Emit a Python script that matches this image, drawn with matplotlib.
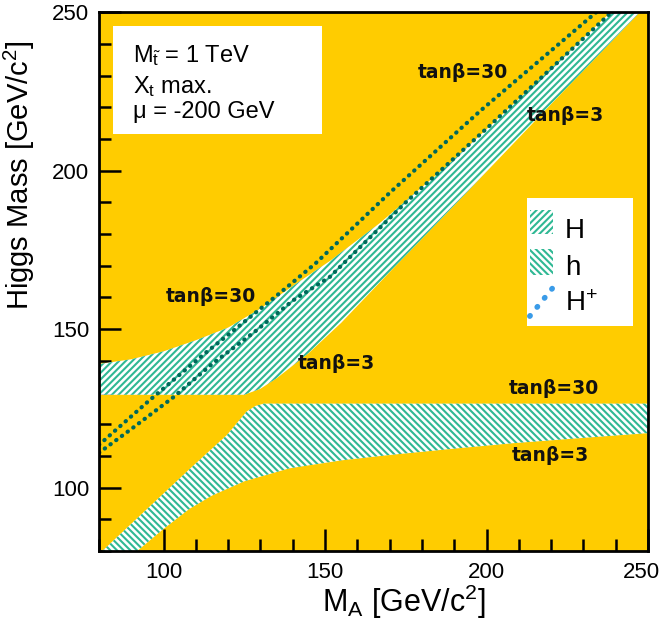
import numpy as np
import matplotlib
matplotlib.use("Agg")
import matplotlib.pyplot as plt
from matplotlib.patches import Rectangle
from matplotlib.ticker import MultipleLocator
from matplotlib.transforms import ScaledTranslation

plt.rcParams['font.family'] = ['Liberation Sans', 'DejaVu Sans']
plt.rcParams['mathtext.fontset'] = 'custom'
plt.rcParams['mathtext.rm'] = 'Liberation Sans'
plt.rcParams['mathtext.it'] = 'Liberation Sans:italic'
plt.rcParams['mathtext.bf'] = 'Liberation Sans:bold'
plt.rcParams['hatch.linewidth'] = 1.5

# colours
bg_col = '#ffcc00'
hatch_col = '#2fb894'
dot_col = '#00695a'
leg_dot_col = '#3a9be8'

# heavy H band : upper edge (tanb=3) and lower edge (tanb=30)
H_up_x = [80, 90, 100, 110, 120, 130, 142, 151.5, 167, 187.6, 201, 238.5]
H_up_y = [139, 140.5, 143, 146.5, 150.5, 156.5, 165, 171.5, 183.5, 201.4, 214, 250]
H_lo_x = [80, 125, 130, 135, 145, 155, 170, 192.8, 220, 247.5]
H_lo_y = [129.3, 129.3, 131.2, 134.5, 142.5, 152, 168, 192, 221, 250]

# light h band : upper edge (tanb=30) and lower edge (tanb=3)
h_up_x = [81, 108.3, 119.6, 125.7, 128.5, 131, 250]
h_up_y = [80, 106.1, 116.6, 124, 125.8, 126.5, 126.5]
h_lo_x = [91.8, 100, 108, 115, 125, 139, 155, 170, 190, 208, 230, 250]
h_lo_y = [80, 87, 93.3, 97.5, 102, 106.1, 108.6, 110.3, 112.3, 114, 115.7, 117.2]

# charged higgs, two tanb values
Hp30_x = [80, 95, 112, 124, 136, 147, 170, 198, 234]
Hp30_y = [113.5, 127, 141.7, 151.5, 161.4, 170.7, 193, 218.8, 250]
Hp3_x = [80, 90, 103, 115, 128, 140, 151.5, 175, 201, 238.7]
Hp3_y = [111, 118.5, 128.5, 139, 149, 159, 166.5, 190, 214.2, 250]

# tanb labels (x, y, text)
lab_x = [192.7, 224.3, 114.7, 153.4, 220.9, 219.8]
lab_y = [230.9, 217.3, 160.4, 139.2, 131.3, 110.2]
lab_txt = ['tanβ=30', 'tanβ=3', 'tanβ=30', 'tanβ=3', 'tanβ=30', 'tanβ=3']

hatch_H = '/' * 5
hatch_h = '\\' * 5

fig = plt.figure(figsize=(6.61, 6.40), dpi=100)
ax = fig.add_axes([0.1498, 0.139, 0.8305, 0.842])
ax.set_facecolor(bg_col)

# bands
ax.fill(np.concatenate([h_up_x, h_lo_x[::-1]]), np.concatenate([h_up_y, h_lo_y[::-1]]),
        facecolor='white', edgecolor=hatch_col, hatch=hatch_h, linewidth=0, zorder=2)
ax.fill(np.concatenate([H_up_x, H_lo_x[::-1]]), np.concatenate([H_up_y, H_lo_y[::-1]]),
        facecolor='white', edgecolor=hatch_col, hatch=hatch_H, linewidth=0, zorder=2)

# H+ dotted lines
for xs, ys in [(Hp30_x, Hp30_y), (Hp3_x, Hp3_y)]:
    ax.plot(xs, ys, color=dot_col, lw=3, linestyle=(0, (0.1, 1.6)),
            dash_capstyle='round', zorder=3)

for x, y, t in zip(lab_x, lab_y, lab_txt):
    ax.text(x, y, t, ha='center', va='center', fontsize=13.5, fontweight='bold',
            family='DejaVu Sans', color='#111111', zorder=4)

# info box
ax.add_patch(Rectangle((84.3, 211.6), 64.7, 34.1, facecolor='white', edgecolor='none', zorder=4))
ax.text(90.5, 234.3, r'M$_{\tilde{\mathrm{t}}}$ = 1 TeV', fontsize=17, va='baseline', zorder=5)
ax.text(90.5, 224.5, r'X$_{\mathrm{t}}$ max.', fontsize=17, va='baseline', zorder=5)
ax.text(90.5, 216.7, 'μ = -200 GeV', fontsize=17, va='baseline', zorder=5)

# legend
ax.add_patch(Rectangle((212.5, 151), 32.8, 40.4, facecolor='white', edgecolor='none', zorder=4))
ax.add_patch(Rectangle((213.4, 179.9), 7.1, 7.6, facecolor='white', edgecolor=hatch_col,
                       hatch=hatch_H, linewidth=0, zorder=5))
ax.add_patch(Rectangle((213.4, 167.0), 7.1, 8.2, facecolor='white', edgecolor=hatch_col,
                       hatch=hatch_h, linewidth=0, zorder=5))
ax.plot([213.4, 220.5], [154.1, 163.0], color=leg_dot_col, lw=4, linestyle=(0, (0.1, 2.0)),
        dash_capstyle='round', zorder=5)
ax.text(224.3, 178.8, 'H', fontsize=20, va='baseline', zorder=5)
ax.text(224.3, 167.1, 'h', fontsize=20, va='baseline', zorder=5)
ax.text(224.3, 155.7, r'H$^{+}$', fontsize=20, va='baseline', zorder=5)

ax.set_xlim(80, 250)
ax.set_ylim(80, 250)
ax.xaxis.set_major_locator(MultipleLocator(50))
ax.xaxis.set_minor_locator(MultipleLocator(10))
ax.yaxis.set_major_locator(MultipleLocator(50))
ax.yaxis.set_minor_locator(MultipleLocator(10))
ax.tick_params(which='both', direction='in', top=False, right=False, width=1.8, labelsize=16)
ax.tick_params(which='major', length=16)
ax.tick_params(which='minor', length=8.5)
ax.tick_params(axis='x', pad=8)
ax.tick_params(axis='y', pad=7)
for s in ax.spines.values():
    s.set_linewidth(2)
    s.set_zorder(6)

ax.set_xlabel(r'M$_{\mathrm{A}}$ [GeV/c$^{2}$]', fontsize=22)
ax.set_ylabel(r'Higgs Mass [GeV/c$^{2}$]', fontsize=21)
ax.xaxis.set_label_coords(0.556, -0.058)
ax.yaxis.set_label_coords(-0.113, 0.698)

# keep the 250 label on the x axis inside the figure
fig.canvas.draw()
for lbl in ax.get_xticklabels():
    if lbl.get_text() == '250':
        lbl.set_transform(lbl.get_transform() + ScaledTranslation(-0.07, 0, fig.dpi_scale_trans))

fig.savefig('out.png', dpi=100)
